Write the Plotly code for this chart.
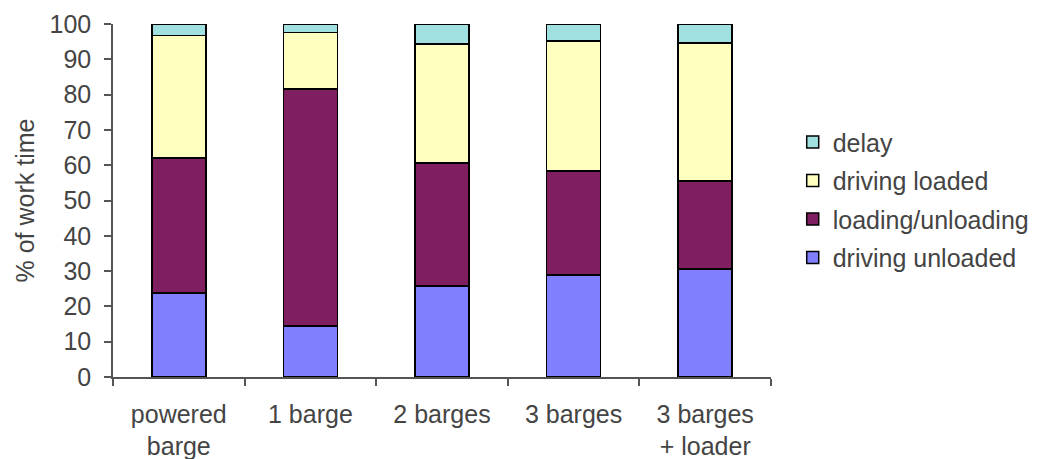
import plotly.graph_objects as go

categories = ["powered<br>barge", "1 barge", "2 barges", "3 barges", "3 barges<br>+ loader"]
driving_unloaded = [23.8, 14.5, 25.8, 28.9, 30.6]
loading_unloading = [38.2, 67.1, 34.8, 29.5, 24.9]
driving_loaded = [34.8, 16.0, 33.7, 36.8, 39.1]
delay = [3.2, 2.4, 5.7, 4.8, 5.4]

series = [
    ("driving unloaded", driving_unloaded, "#8080FF", 4),
    ("loading/unloading", loading_unloading, "#7F1F5F", 3),
    ("driving loaded", driving_loaded, "#FFFFC0", 2),
    ("delay", delay, "#A0E0E0", 1),
]

fig = go.Figure()
for name, vals, col, rank in series:
    fig.add_trace(go.Bar(x=categories, y=vals, name=name, legendgroup=name, legendrank=rank,
                         marker=dict(color=col, line=dict(color="black", width=1.5))))

font_col = "#444444"
fs = 25
fig.update_layout(
    barmode="stack",
    bargap=0.59,
    width=1047, height=459,
    margin=dict(l=113, r=272, t=24, b=82),
    plot_bgcolor="white", paper_bgcolor="white",
    font=dict(family="Liberation Sans, Arial, sans-serif", size=fs, color=font_col),
    showlegend=True,
    legend=dict(traceorder="grouped", x=1.033, y=0.73, xanchor="left", yanchor="top",
                font=dict(size=fs, color=font_col), tracegroupgap=3, itemwidth=30),
    xaxis=dict(showline=True, linecolor="#555", linewidth=1.5, ticks="outside",
               tickson="boundaries", ticklen=7, tickcolor="#555", tickwidth=1.5,
               automargin=False, ticklabelstandoff=14,
               tickfont=dict(size=fs, color=font_col)),
    yaxis=dict(range=[0, 100], dtick=10, showline=True, linecolor="#555", linewidth=1.5,
               ticks="outside", ticklen=7, tickcolor="#555", tickwidth=1.5, showgrid=False,
               zeroline=False, automargin=False, ticklabelstandoff=8,
               tickfont=dict(size=fs, color=font_col),
               title=dict(text="% of work time", font=dict(size=fs, color=font_col), standoff=8)),
)

fig.write_html("out.html")
